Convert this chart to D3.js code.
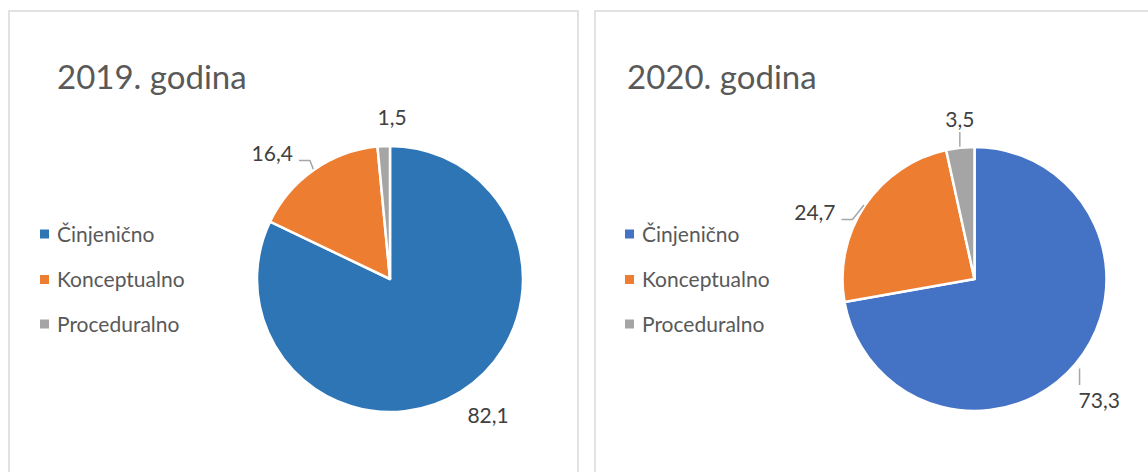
<!DOCTYPE html>
<html>
<head>
<meta charset="utf-8">
<script src="https://cdn.jsdelivr.net/npm/d3@7"></script>
<style>
  body { margin: 0; background: #fff; }
  text { font-family: Lato, "Open Sans", sans-serif; }
</style>
</head>
<body>
<svg width="1148" height="472"></svg>
<script>
// data
var categories = ["Činjenično", "Konceptualno", "Proceduralno"];
var titles = ["2019. godina", "2020. godina"];
var values2019 = [82.1, 16.4, 1.5];
var values2020 = [73.3, 24.7, 3.5];
var labels2019 = ["82,1", "16,4", "1,5"];
var labels2020 = ["73,3", "24,7", "3,5"];

var svg = d3.select("svg");

// panel layout: x, width, pie center, colours, label nudges, leader type
var panels = [
  {
    x: 9, w: 569, cx: 390, cy: 279, r: 133,
    title: titles[0], values: values2019, labels: labels2019,
    colors: ["#2E75B6", "#ED7D31", "#A5A5A5"],
    legendX: 40, titleX: 57,
    nudge: [[8, -7], [-21, 13], [10, 7]],
    leader: [null, "h", null]
  },
  {
    x: 595, w: 600, cx: 974.5, cy: 279, r: 132,
    title: titles[1], values: values2020, labels: labels2020,
    colors: ["#4472C4", "#ED7D31", "#A5A5A5"],
    legendX: 625, titleX: 627,
    nudge: [[-4, 13], [-20, 27], [3.5, 7]],
    leader: ["vl", "h", "vc"]
  }
];

panels.forEach(function (p) {
  var g = svg.append("g");

  g.append("rect")
    .attr("x", p.x)
    .attr("y", 11)
    .attr("width", p.w)
    .attr("height", 480)
    .style("fill", "#fff")
    .style("stroke", "#d9d9d9")
    .style("stroke-width", 1.5);

  g.append("text")
    .attr("x", p.titleX)
    .attr("y", 89)
    .style("font-size", "33px")
    .style("fill", "#595959")
    .text(p.title);

  // legend
  var leg = g.selectAll(".leg")
    .data(categories)
    .enter()
    .append("g")
    .attr("transform", function (d, i) {
      return "translate(" + p.legendX + "," + [234, 279.5, 324][i] + ")";
    });
  leg.append("rect")
    .attr("x", 0)
    .attr("y", -4.5)
    .attr("width", 9)
    .attr("height", 9)
    .style("fill", function (d, i) { return p.colors[i]; });
  leg.append("text")
    .attr("x", 17)
    .attr("dy", "0.36em")
    .style("font-size", "21px")
    .style("fill", "#595959")
    .text(function (d) { return d; });

  // pie
  var pie = d3.pie().sort(null).value(function (d) { return d; });
  var arcs = pie(p.values);
  var arc = d3.arc().innerRadius(0).outerRadius(p.r);

  var pg = g.append("g").attr("transform", "translate(" + p.cx + "," + p.cy + ")");
  pg.selectAll("path")
    .data(arcs)
    .enter()
    .append("path")
    .attr("d", arc)
    .style("fill", function (d, i) { return p.colors[i]; })
    .style("stroke", "#fff")
    .style("stroke-width", 2.5)
    .style("stroke-linejoin", "round");

  // data labels
  var labelR = p.r + 36;
  arcs.forEach(function (a, i) {
    var mid = (a.startAngle + a.endAngle) / 2;
    var lx = Math.sin(mid) * labelR + p.nudge[i][0];
    var ly = -Math.cos(mid) * labelR + p.nudge[i][1];

    var t = pg.append("text")
      .attr("x", lx)
      .attr("y", ly)
      .attr("dy", "0.36em")
      .attr("text-anchor", "middle")
      .style("font-size", "21px")
      .style("fill", "#404040")
      .text(p.labels[i]);

    var w = t.node().getComputedTextLength();
    var pts = null;
    if (p.leader[i] === "h") {
      var sx = lx + w / 2 + 6, sy = ly + 7;
      var ex = Math.sin(mid) * (p.r + 1), ey = -Math.cos(mid) * (p.r + 1);
      pts = [[sx, sy], [sx + 11, sy], [ex, ey]];
    } else if (p.leader[i] === "vl") {
      var vx = lx - w / 2 + 1;
      var top = ly - 15;
      var cyv = Math.sqrt(Math.pow(p.r + 6, 2) - vx * vx);
      pts = [[vx, top], [vx, cyv]];
    } else if (p.leader[i] === "vc") {
      var bot = ly + 13;
      var cyt = -Math.sqrt(Math.pow(p.r + 1, 2) - lx * lx);
      pts = [[lx, bot], [lx, cyt]];
    }
    if (pts) {
      pg.append("path")
        .attr("d", d3.line()(pts))
        .style("fill", "none")
        .style("stroke", "#A6A6A6")
        .style("stroke-width", 1.5);
    }
  });
});
</script>
</body>
</html>
